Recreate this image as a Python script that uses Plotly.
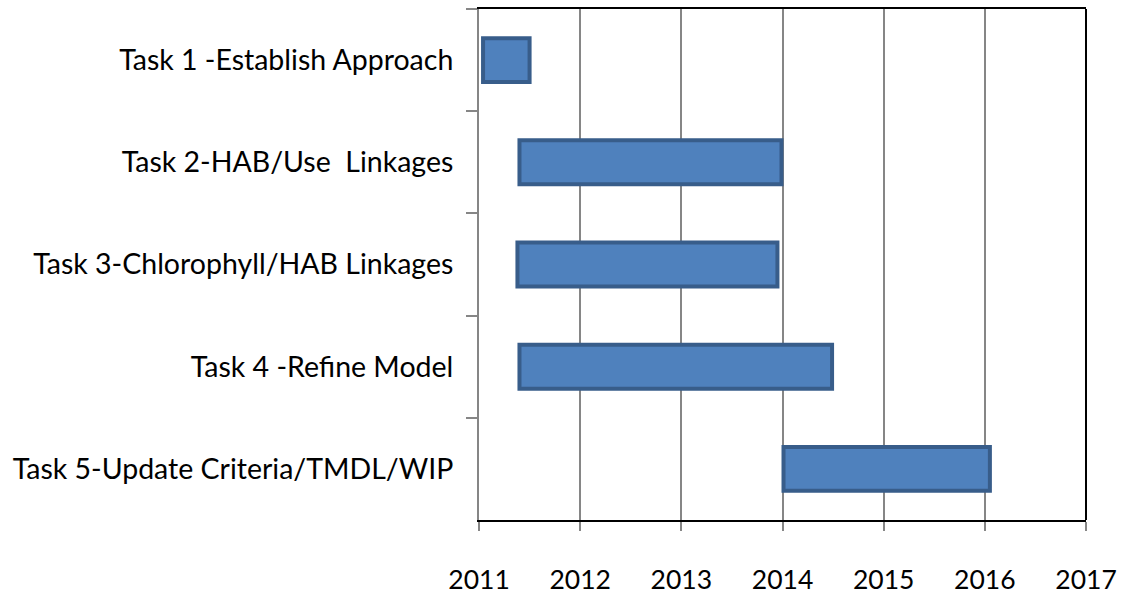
import plotly.graph_objects as go

tasks = [
    "Task 1 -Establish Approach",
    "Task 2-HAB/Use  Linkages",
    "Task 3-Chlorophyll/HAB Linkages",
    "Task 4 -Refine Model",
    "Task 5-Update Criteria/TMDL/WIP",
]
start_year = [2011.04, 2011.40, 2011.38, 2011.40, 2014.01]
end_year = [2011.50, 2013.99, 2013.95, 2014.49, 2016.05]
year_ticks = [2011, 2012, 2013, 2014, 2015, 2016, 2017]

durations = [e - s for s, e in zip(start_year, end_year)]

FONT = "Lato"
GRAY = "#868686"

fig = go.Figure()
fig.add_trace(go.Bar(
    y=tasks,
    x=durations,
    base=start_year,
    orientation="h",
    width=0.43,
    marker=dict(color="#4F81BD", line=dict(color="#385D8A", width=4)),
    hoverinfo="skip",
))

fig.add_shape(type="line", xref="x domain", yref="y domain",
              x0=1, x1=1, y0=0, y1=1, line=dict(color="black", width=2))

fig.update_layout(
    width=1124, height=602,
    margin=dict(l=479, r=37, t=7, b=71),
    paper_bgcolor="white", plot_bgcolor="white",
    showlegend=False,
    font=dict(family=FONT, color="black", size=27),
    xaxis=dict(
        range=[year_ticks[0], year_ticks[-1]],
        tickvals=year_ticks,
        ticktext=[str(y) for y in year_ticks],
        showgrid=True, gridcolor=GRAY, gridwidth=2,
        showline=True, linecolor="black", linewidth=2, mirror=True,
        ticks="outside", ticklen=9, tickcolor=GRAY, tickwidth=2,
        ticklabelstandoff=26,
        tickfont=dict(family=FONT, size=26.5, color="black"),
        zeroline=False,
    ),
    yaxis=dict(
        type="category",
        categoryorder="array", categoryarray=tasks,
        autorange="reversed",
        showgrid=False,
        showline=True, linecolor=GRAY, linewidth=2,
        ticks="outside", tickson="boundaries", ticklen=11,
        tickcolor=GRAY, tickwidth=2,
        ticklabelstandoff=18,
        tickfont=dict(family=FONT, size=28.5, color="black"),
        zeroline=False,
    ),
)

fig.write_html("out.html", config={"displayModeBar": False},
               post_script="document.body.style.margin='0';")
